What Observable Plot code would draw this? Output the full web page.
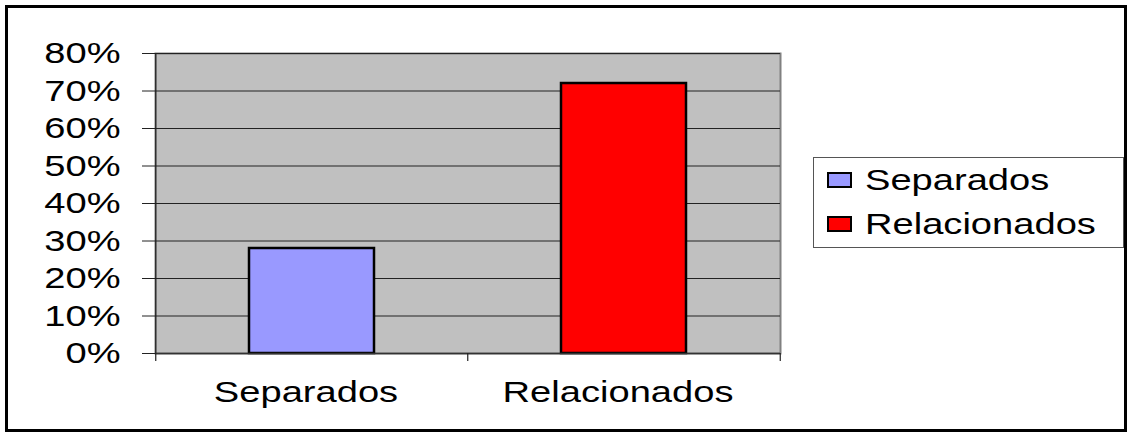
<!DOCTYPE html>
<html>
<head>
<meta charset="utf-8">
<script src="https://cdn.jsdelivr.net/npm/d3@7"></script>
<script src="https://cdn.jsdelivr.net/npm/@observablehq/plot@0.6"></script>
<style>
  html, body { margin: 0; padding: 0; background: white; }
  #wrap { position: relative; width: 1133px; height: 437px; font-family: "Liberation Sans", Arial, sans-serif; }
  #border { position: absolute; left: 5px; top: 5px; width: 1122px; height: 427px; border: 3px solid black; box-sizing: border-box; pointer-events: none; }
  #legend { position: absolute; left: 813px; top: 157px; width: 311px; height: 91px; border: 1px solid #555; box-sizing: border-box; background: white; }
  .item { position: absolute; left: 13px; height: 30px; display: flex; align-items: center; }
  .sw { width: 21px; height: 12px; border: 2px solid black; margin-right: 13px; }
  .lab { font-size: 30px; color: black; display: inline-block; transform: scaleX(1.27); transform-origin: left center; line-height: 30px; }
</style>
</head>
<body>
<div id="wrap"><div id="chart"></div><div id="legend"></div><div id="border"></div></div>
<script>
const categories = ["Separados", "Relacionados"];
const values = [0.28, 0.72];
const colors = ["#9999FF", "#FF0000"];
const yTicks = [0, 0.1, 0.2, 0.3, 0.4, 0.5, 0.6, 0.7, 0.8];

const data = categories.map((c, i) => ({category: c, value: values[i]}));

const W = 1133, H = 437, mL = 155, mR = 353, mT = 53, mB = 84;
const step = (W - mL - mR) / categories.length;
const fmt = d3.format(".0%");

const chart = Plot.plot({
  width: W, height: H,
  marginLeft: mL, marginRight: mR, marginTop: mT, marginBottom: mB,
  style: {background: "transparent", fontFamily: "Liberation Sans, Arial, sans-serif", fontSize: "30px", color: "black"},
  x: {domain: categories, paddingInner: 0.6, paddingOuter: 0.3, axis: null},
  y: {domain: [0, 0.8], axis: null},
  color: {domain: categories, range: colors},
  marks: [
    Plot.frame({fill: "#C0C0C0", stroke: "#808080", strokeWidth: 2}),
    Plot.gridY(yTicks, {stroke: "#222", strokeOpacity: 1, strokeWidth: 1}),
    Plot.barY(data, {x: "category", y: "value", fill: "category", stroke: "black", strokeWidth: 2.5}),
    Plot.ruleY([0], {stroke: "#333", strokeWidth: 1.5}),
    Plot.ruleX(categories.slice(0, 1), {x: d => d, dx: -step / 2, y1: 0.8, y2: -0.021, stroke: "#222", strokeWidth: 1.2}),
    Plot.ruleX(categories.slice(1), {x: d => d, dx: -step / 2, y1: 0, y2: -0.021, stroke: "#222", strokeWidth: 1.2}),
    Plot.ruleX(categories.slice(-1), {x: d => d, dx: step / 2, y1: 0, y2: -0.021, stroke: "#222", strokeWidth: 1.2}),
    Plot.axisY({ticks: yTicks, tickFormat: fmt, tickSize: 13, tickPadding: 22, fontSize: 30, label: null, stroke: "#222"}),
    Plot.axisX({tickSize: 0, tickPadding: 27, fontSize: 30, label: null, dx: -6})
  ]
});

document.getElementById("chart").appendChild(chart);

// horizontal stretch of text to match the reference's wide glyphs
const sx = 1.27;
chart.querySelectorAll("text").forEach(t => {
  const len = t.getComputedTextLength();
  if (len > 0) {
    t.setAttribute("textLength", len * sx);
    t.setAttribute("lengthAdjust", "spacingAndGlyphs");
  }
});

// legend
const legend = document.getElementById("legend");
const rowTops = [7, 51];
categories.forEach((c, i) => {
  const item = document.createElement("div");
  item.className = "item";
  item.style.top = rowTops[i] + "px";
  const sw = document.createElement("div");
  sw.className = "sw";
  sw.style.background = colors[i];
  const lab = document.createElement("span");
  lab.className = "lab";
  lab.textContent = c;
  item.appendChild(sw); item.appendChild(lab);
  legend.appendChild(item);
});
</script>
</body>
</html>
